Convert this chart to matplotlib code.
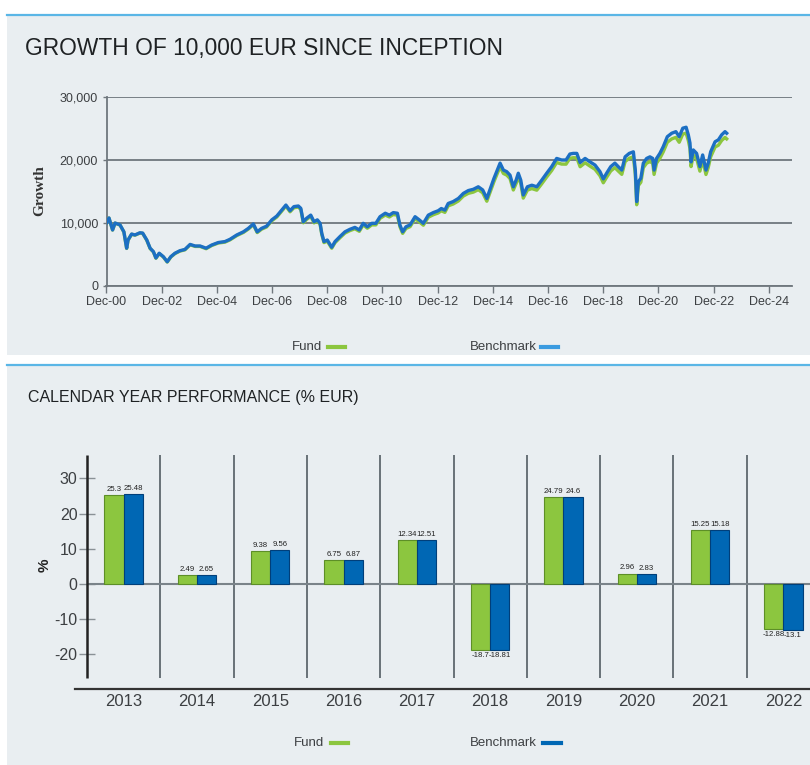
import matplotlib
matplotlib.use("Agg")
import matplotlib.pyplot as plt
from matplotlib.patches import Rectangle
from matplotlib.lines import Line2D
from matplotlib.ticker import FuncFormatter
import numpy as np

plt.rcParams['font.family'] = ['Liberation Sans', 'DejaVu Sans']

# ---------------- data: growth of 10,000 EUR ----------------
dates = [2000.92, 2001.01, 2001.14, 2001.23, 2001.41, 2001.55, 2001.65, 2001.70, 2001.83, 2001.95,
         2002.13, 2002.23, 2002.38, 2002.50, 2002.62, 2002.71, 2002.83, 2002.98, 2003.12, 2003.25,
         2003.40, 2003.58, 2003.76, 2003.95, 2004.13, 2004.31, 2004.53, 2004.73, 2004.97, 2005.21,
         2005.39, 2005.64, 2005.88, 2006.06, 2006.24, 2006.38, 2006.54, 2006.72, 2006.91, 2007.09,
         2007.27, 2007.42, 2007.57, 2007.71, 2007.87, 2007.96, 2008.05, 2008.17, 2008.32, 2008.44,
         2008.56, 2008.66, 2008.72, 2008.80, 2008.92, 2009.08, 2009.20, 2009.38, 2009.56, 2009.74,
         2009.92, 2010.08, 2010.22, 2010.37, 2010.53, 2010.68, 2010.83, 2011.02, 2011.17, 2011.31,
         2011.46, 2011.55, 2011.65, 2011.77, 2011.92, 2012.10, 2012.25, 2012.40, 2012.58, 2012.76,
         2012.94, 2013.05, 2013.18, 2013.30, 2013.48, 2013.67, 2013.85, 2014.03, 2014.21, 2014.39,
         2014.55, 2014.70, 2014.81, 2014.96, 2015.08, 2015.18, 2015.30, 2015.42, 2015.54, 2015.66,
         2015.76, 2015.84, 2015.93, 2016.02, 2016.17, 2016.33, 2016.51, 2016.69, 2016.87, 2017.05,
         2017.23, 2017.41, 2017.57, 2017.71, 2017.83, 2017.96, 2018.08, 2018.26, 2018.44, 2018.62,
         2018.80, 2018.92, 2019.04, 2019.19, 2019.34, 2019.46, 2019.59, 2019.71, 2019.86, 2020.01,
         2020.08, 2020.13, 2020.19, 2020.28, 2020.37, 2020.49, 2020.61, 2020.71, 2020.76, 2020.85,
         2020.97, 2021.09, 2021.24, 2021.40, 2021.55, 2021.67, 2021.80, 2021.92, 2022.00, 2022.06,
         2022.10, 2022.18, 2022.30, 2022.42, 2022.52, 2022.64, 2022.72, 2022.81, 2022.97, 2023.09,
         2023.21, 2023.33, 2023.39]

benchmark = [10000, 10800, 8900, 10000, 9700, 8600, 6000, 7300, 8250, 8100,
             8450, 8400, 7300, 6000, 5450, 4450, 5200, 4650, 3850, 4650,
             5200, 5600, 5800, 6600, 6350, 6350, 6000, 6500, 6900, 7050,
             7400, 8100, 8600, 9150, 9850, 8600, 9150, 9500, 10500, 11100,
             12050, 12850, 11950, 12600, 12700, 12330, 10200, 10750, 11250, 10200,
             10500, 9950, 8350, 7050, 7300, 6150, 7050, 7850, 8600, 9000,
             9300, 8900, 9950, 9400, 9950, 9950, 11000, 11550, 11250, 11650,
             11550, 9700, 8600, 9400, 9700, 11000, 10500, 9950, 11250, 11650,
             11950, 12300, 12050, 13100, 13400, 13900, 14700, 15150, 15350, 15750,
             15250, 13900, 15250, 17100, 18400, 19500, 18400, 18150, 17600, 15750,
             16800, 17900, 16800, 14450, 15750, 16000, 15750, 16800, 17900, 18950,
             20250, 20000, 20000, 20950, 21050, 21050, 19600, 20250, 19700, 19200,
             18150, 17000, 17900, 18950, 19500, 18950, 18400, 20500, 21050, 21300,
             18400, 13400, 16550, 17100, 19500, 20250, 20500, 20250, 18400, 20250,
             21050, 22100, 23700, 24250, 24500, 23700, 25050, 25200, 24000, 22700,
             19700, 21600, 21050, 18950, 20800, 18400, 19500, 21300, 22900, 23200,
             24000, 24500, 24250]

fund = [10000, 10780, 8880, 9970, 9670, 8570, 5960, 7260, 8210, 8060,
        8400, 8350, 7250, 5950, 5400, 4400, 5150, 4600, 3800, 4600,
        5140, 5540, 5740, 6530, 6280, 6280, 5920, 6420, 6820, 6960,
        7310, 8000, 8500, 9040, 9730, 8480, 9020, 9370, 10360, 10950,
        11890, 12680, 11780, 12420, 12520, 12150, 10030, 10570, 11060, 10020,
        10310, 9770, 8180, 6890, 7130, 5990, 6880, 7660, 8400, 8790,
        9080, 8680, 9710, 9170, 9700, 9700, 10730, 11260, 10960, 11350,
        11240, 9430, 8350, 9130, 9420, 10690, 10190, 9650, 10920, 11310,
        11600, 11940, 11690, 12720, 13010, 13500, 14280, 14710, 14900, 15290,
        14790, 13460, 14780, 16590, 17870, 18940, 17860, 17610, 17060, 15240,
        16260, 17340, 16260, 13950, 15220, 15460, 15210, 16230, 17310, 18330,
        19600, 19350, 19340, 20270, 20360, 20350, 18930, 19560, 19020, 18520,
        17500, 16380, 17250, 18260, 18790, 18260, 17720, 19750, 20280, 20520,
        17720, 12900, 15940, 16470, 18780, 19500, 19740, 19500, 17710, 19500,
        20270, 21280, 22820, 23350, 23590, 22810, 24120, 24260, 23100, 21840,
        18950, 20790, 20250, 18230, 20020, 17700, 18770, 20510, 22060, 22340,
        23110, 23590, 23350]

date_tick_labels = ['Dec-00', 'Dec-02', 'Dec-04', 'Dec-06', 'Dec-08', 'Dec-10', 'Dec-12',
                    'Dec-14', 'Dec-16', 'Dec-18', 'Dec-20', 'Dec-22', 'Dec-24']
growth_ticks = [0, 10000, 20000, 30000]

# ---------------- data: calendar year performance ----------------
years = ['2013', '2014', '2015', '2016', '2017', '2018', '2019', '2020', '2021', '2022']
fund_perf = [25.3, 2.49, 9.38, 6.75, 12.34, -18.7, 24.79, 2.96, 15.25, -12.88]
bench_perf = [25.48, 2.65, 9.56, 6.87, 12.51, -18.81, 24.6, 2.83, 15.18, -13.1]
perf_ticks = [-20, -10, 0, 10, 20, 30]

# ---------------- styling ----------------
W, H = 810, 765
fx = lambda px: px / W
fy = lambda py: 1 - py / H

BG = '#e9eef1'
ACCENT = '#5ab6e6'
GREEN = '#8cc63f'
BLUE_LINE = '#1c6fc3'
BLUE_SWATCH = '#3a9be0'
BLUE_BAR = '#0067b4'
GRID = '#6f777d'
TXT = '#3c3f42'

fig = plt.figure(figsize=(W / 100, H / 100), dpi=100)
fig.patch.set_facecolor('white')

# panel backgrounds and accent lines
fig.add_artist(Rectangle((fx(7), fy(355)), 1 - fx(7), (355 - 15) / H,
                         transform=fig.transFigure, color=BG, zorder=-10, lw=0))
fig.add_artist(Line2D([fx(7), 1], [fy(14.5)] * 2, transform=fig.transFigure,
                      color=ACCENT, lw=1.6))
fig.add_artist(Rectangle((fx(7), 0), 1 - fx(7), (765 - 365) / H,
                         transform=fig.transFigure, color=BG, zorder=-10, lw=0))
fig.add_artist(Line2D([fx(7), 1], [fy(364.5)] * 2, transform=fig.transFigure,
                      color=ACCENT, lw=1.6))

# ================= top chart =================
fig.text(fx(25), fy(48), 'GROWTH OF 10,000 EUR SINCE INCEPTION', fontsize=16.4,
         va='center', ha='left', color='#1f2224')

ax1 = fig.add_axes([fx(106.5), fy(286), (792 - 106.5) / W, (286 - 97) / H])
ax1.set_facecolor('none')
ax1.plot(dates, fund, color=GREEN, lw=2.4, zorder=3, solid_joinstyle='round')
ax1.plot(dates, benchmark, color=BLUE_LINE, lw=2.4, zorder=4, solid_joinstyle='round')

start = dates[0]
ax1.set_xlim(start, start + (792 - 106.5) / 27.6)
ax1.set_xticks([start + 2 * k for k in range(len(date_tick_labels))])
ax1.set_xticklabels(date_tick_labels)
ax1.set_ylim(0, 30000)
ax1.set_yticks(growth_ticks)
ax1.yaxis.set_major_formatter(FuncFormatter(lambda v, p: f"{int(v):,}"))
ax1.yaxis.grid(True, color=GRID, lw=1.3)
ax1.set_axisbelow(True)
for s in ['top', 'right']:
    ax1.spines[s].set_visible(False)
for s in ['left', 'bottom']:
    ax1.spines[s].set_color(GRID)
    ax1.spines[s].set_linewidth(1.3)
ax1.tick_params(axis='x', length=5, width=1, color=GRID, labelsize=9, labelcolor=TXT, pad=2)
ax1.tick_params(axis='y', length=3, width=1, color=GRID, labelsize=9, labelcolor=TXT, pad=3)

fig.text(fx(40), fy(191), 'Growth', rotation=90, ha='center', va='center',
         fontsize=11, fontweight='bold', family=['Liberation Serif', 'DejaVu Serif'],
         color='#333333')

# top legend
fig.text(fx(322), fy(347), 'Fund', ha='right', va='center', fontsize=9.5, color=TXT)
fig.add_artist(Line2D([fx(328), fx(345)], [fy(347)] * 2, transform=fig.transFigure,
                      color=GREEN, lw=3))
fig.text(fx(537), fy(347), 'Benchmark', ha='right', va='center', fontsize=9.5, color=TXT)
fig.add_artist(Line2D([fx(541), fx(558)], [fy(347)] * 2, transform=fig.transFigure,
                      color=BLUE_SWATCH, lw=3))

# ================= bottom chart =================
fig.text(fx(28), fy(397), 'CALENDAR YEAR PERFORMANCE (% EUR)', fontsize=11.5,
         va='center', ha='left', color='#1f2224')

cat_px = 73.3
ax2 = fig.add_axes([fx(87), fy(689), (810 - 87) / W, (689 - 455) / H])
ax2.set_facecolor('none')
ax2.set_xlim(-0.5, -0.5 + (810 - 87) / cat_px)
ax2.set_ylim(-29.8, 36.6)

x = np.arange(len(years))
bw = 19.2 / cat_px
b1 = ax2.bar(x - bw / 2, fund_perf, width=bw, color=GREEN, edgecolor='#5d8f27',
             linewidth=0.8, zorder=3)
b2 = ax2.bar(x + bw / 2, bench_perf, width=bw, color=BLUE_BAR, edgecolor='#003f7a',
             linewidth=0.8, zorder=3)
ax2.bar_label(b1, labels=[f"{v:g}" for v in fund_perf], padding=1.5, fontsize=5.6,
              color='#222222')
ax2.bar_label(b2, labels=[f"{v:g}" for v in bench_perf], padding=1.5, fontsize=5.6,
              color='#222222')

ax2.axhline(0, color='#7a8389', lw=1.5, zorder=2)
sep_top = 36.6
sep_bottom = -26.7
ax2.vlines(x[:-1] + 0.5, sep_bottom, sep_top, color='#687177', lw=1.4, zorder=1)
ax2.vlines([-0.5], sep_bottom, sep_top, color='#222222', lw=1.8, zorder=4, clip_on=False)

for s in ['top', 'right', 'left']:
    ax2.spines[s].set_visible(False)
ax2.spines['bottom'].set_color('#333333')
ax2.spines['bottom'].set_linewidth(1.6)
ax2.spines['bottom'].set_bounds(-0.5 - 12 / cat_px, -0.5 + (810 - 87) / cat_px)

ax2.set_yticks(perf_ticks)
ax2.set_yticklabels([str(t) for t in perf_ticks])
ax2.tick_params(axis='y', direction='inout', length=11.5, width=1, color='#8a9196',
                labelsize=11.5, labelcolor=TXT, pad=1)
ax2.set_xticks(x)
ax2.set_xticklabels(years)
ax2.tick_params(axis='x', length=0, labelsize=12, labelcolor=TXT, pad=3.5)

fig.text(fx(45), fy(565), '%', rotation=90, ha='center', va='center', fontsize=11,
         fontweight='bold', color='#222222')

# bottom legend
fig.text(fx(324), fy(743), 'Fund', ha='right', va='center', fontsize=9.5, color=TXT)
fig.add_artist(Line2D([fx(331), fx(348)], [fy(743)] * 2, transform=fig.transFigure,
                      color=GREEN, lw=3))
fig.text(fx(537), fy(743), 'Benchmark', ha='right', va='center', fontsize=9.5, color=TXT)
fig.add_artist(Line2D([fx(543), fx(561)], [fy(743)] * 2, transform=fig.transFigure,
                      color=BLUE_BAR, lw=3))

fig.savefig('out.png', dpi=100)
